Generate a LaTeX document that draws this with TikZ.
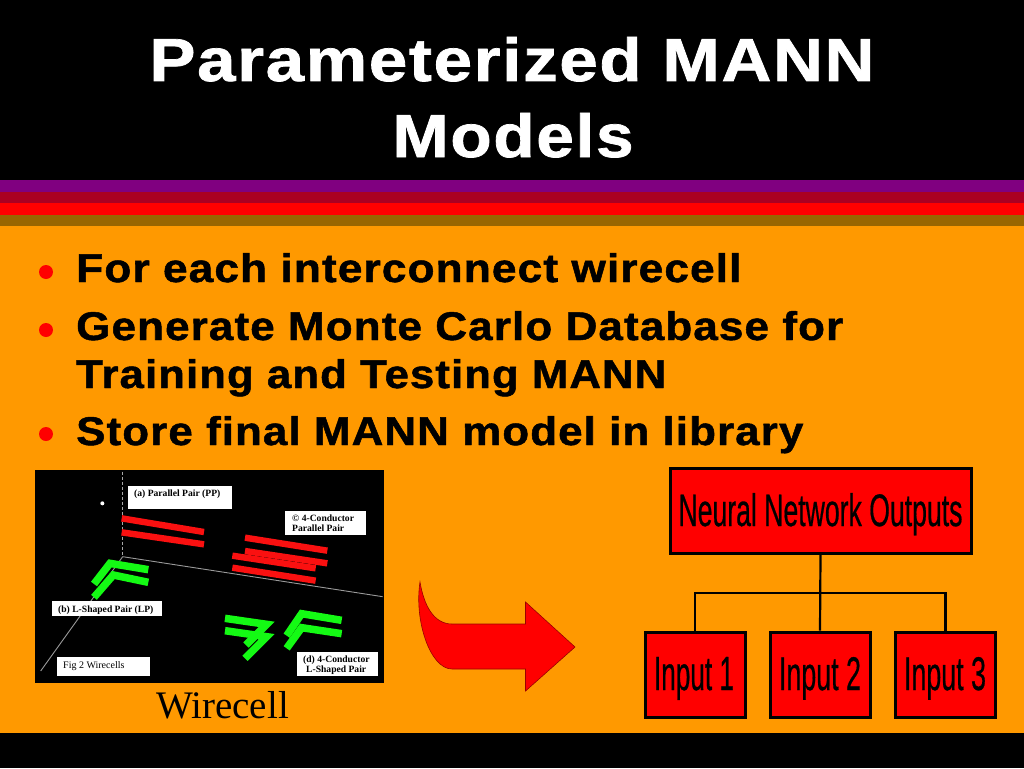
\documentclass[tikz,border=0pt]{standalone}
\usepackage{fontspec}
\usepackage{graphicx}
\setmainfont{Liberation Sans}
\newfontfamily\serifface{Liberation Serif}
\newfontfamily\spacedbold[LetterSpace=2.5,FakeBold=1.2]{Liberation Sans Bold}
\newfontfamily\heavyreg[FakeBold=0.7]{Liberation Sans}
\definecolor{slideorange}{HTML}{FF9900}
\definecolor{stripepurple}{HTML}{800080}
\definecolor{stripecrimson}{HTML}{AA0022}
\definecolor{stripered}{HTML}{FF0000}
\definecolor{stripebrown}{HTML}{996600}
\definecolor{barred}{HTML}{FA1010}
\definecolor{bargreen}{HTML}{14FA14}
\newcommand{\fitb}[3]{\resizebox{#1pt}{#2pt}{\spacedbold #3}}
\newcommand{\fitr}[3]{\resizebox{#1pt}{#2pt}{\heavyreg #3}}
\tikzset{
  titleline/.style={text=white,inner sep=0pt,anchor=base},
  bodyline/.style={text=black,inner sep=0pt,anchor=base west},
  bulletdot/.style={circle,fill=red,inner sep=0pt,minimum size=14pt},
  flowbox/.style={draw=black,line width=3pt,fill=red,inner sep=0pt},
  flowtext/.style={text=black,inner sep=0pt,anchor=base},
  link/.style={draw=black,line width=2.2pt},
  redbar/.style={draw=barred,line width=6.4pt},
  greenbar/.style={draw=bargreen,line width=7.5pt,line join=miter},
  axis/.style={draw=gray!80,line width=0.9pt},
  tag/.style={fill=white,draw=none},
  tagtext/.style={font=\serifface\bfseries\fontsize{9.6}{11}\selectfont,text=black,inner sep=0pt,anchor=base west},
}
\begin{document}
\begin{tikzpicture}[x=1pt,y=-1pt]
\useasboundingbox (0,0) rectangle (1024,768);
% background and stripes
\fill[black] (0,0) rectangle (1024,768);
\fill[slideorange] (0,226) rectangle (1024,733);
\fill[stripepurple] (0,180) rectangle (1024,191.5);
\fill[stripecrimson] (0,191.5) rectangle (1024,203);
\fill[stripered] (0,203) rectangle (1024,215);
\fill[stripebrown] (0,215) rectangle (1024,226);
% title
\node[titleline] (t1) at (512,81) {\fitb{725}{44}{Parameterized MANN}};
\node[titleline] (t2) at (513,157) {\fitb{241}{44}{Models}};
% bullets
\node[bulletdot] (b1) at (46,272) {};
\node[bulletdot] (b2) at (46,330) {};
\node[bulletdot] (b3) at (46,434) {};
\node[bodyline] (l1) at (76,282) {\fitb{665}{29}{For each interconnect wirecell}};
\node[bodyline] (l2) at (76,340) {\fitb{767}{29}{Generate Monte Carlo Database for}};
\node[bodyline] (l3) at (76,388) {\fitb{590}{29}{Training and Testing MANN}};
\node[bodyline] (l4) at (76,445) {\fitb{727}{29}{Store final MANN model in library}};
% wirecell picture
\fill[black] (35,470) rectangle (384,683);
\begin{scope}[shift={(30,465)},x=0.33333pt,y=-0.33333pt]
  \draw[axis,densely dashed,draw=gray!70,line width=0.6pt] (278,20) -- (278,275);
  \draw[axis] (278,275) -- (1058,395);
  \draw[axis] (278,275) -- (32,618);
  \fill[white] (217,115) circle (6);
  \draw[redbar] (275,160) -- (522,201);
  \draw[redbar] (275,202) -- (522,238);
  \draw[redbar] (645,218) -- (892,257);
  \draw[redbar] (645,258) -- (892,295);
  \draw[redbar] (607,272) -- (857,310);
  \draw[redbar] (607,308) -- (857,347);
  \draw[greenbar] (192,357) -- (240,295) -- (355,314);
  \draw[greenbar] (192,397) -- (250,330) -- (355,352);
  \draw[greenbar] (770,512) -- (815,446) -- (935,466);
  \draw[greenbar] (770,550) -- (815,488) -- (935,506);
  \draw[greenbar] (585,460) -- (710,478) -- (648,540);
  \draw[greenbar] (585,497) -- (710,515) -- (645,580);
\end{scope}
% picture tags
\fill[tag] (128,486) rectangle (232,509);
\fill[tag] (285,511) rectangle (366,535);
\fill[tag] (52,601) rectangle (162,616);
\fill[tag] (57,657) rectangle (150,676);
\fill[tag] (297,652) rectangle (378,676);
\node[tagtext] (ta) at (134,496) {(a) Parallel Pair (PP)};
\node[tagtext] (tc1) at (292,521) {© 4-Conductor};
\node[tagtext] (tc2) at (292,531) {Parallel Pair};
\node[tagtext] (tb) at (58,612) {(b) L-Shaped Pair (LP)};
\node[tagtext,font=\serifface\fontsize{10}{11}\selectfont] (tf) at (63,668.5) {Fig 2 Wirecells};
\node[tagtext] (td1) at (303,662) {(d) 4-Conductor};
\node[tagtext] (td2) at (306,672) {L-Shaped Pair};
\node[inner sep=0pt,anchor=base,text=black,font=\serifface\fontsize{39}{39}\selectfont] (wc) at (222.5,718) {Wirecell};
% curved arrow
\draw[fill=red,draw=red!60!black,line width=0.6pt]
  (420,582) .. controls (424,606) and (434,624) .. (452,624)
  -- (525.5,624) -- (525.5,602) -- (575,647) -- (525.5,691) -- (525.5,669) -- (452,669)
  .. controls (430,669) and (414,620) .. (420,582) -- cycle;
% network
\node[flowbox,minimum width=301pt,minimum height=85pt] (out) at (820.5,511) {};
\node[flowbox,minimum width=100pt,minimum height=85pt] (in1) at (695,674.5) {};
\node[flowbox,minimum width=100pt,minimum height=85pt] (in2) at (820,674.5) {};
\node[flowbox,minimum width=100pt,minimum height=85pt] (in3) at (945.5,674.5) {};
\node[flowtext] (tout) at (820.5,526) {\fitr{284}{33}{Neural Network Outputs}};
\node[flowtext] (t1i) at (694,690) {\fitr{80}{33}{Input 1}};
\node[flowtext] (t2i) at (820,690) {\fitr{82}{33}{Input 2}};
\node[flowtext] (t3i) at (945,690) {\fitr{82}{33}{Input 3}};
\coordinate (bus) at (820.5,593);
\draw[link] (out.south) -- (in2.north);
\draw[link] (in1.north) |- (bus);
\draw[link] (in3.north) |- (bus);
\end{tikzpicture}
\end{document}
